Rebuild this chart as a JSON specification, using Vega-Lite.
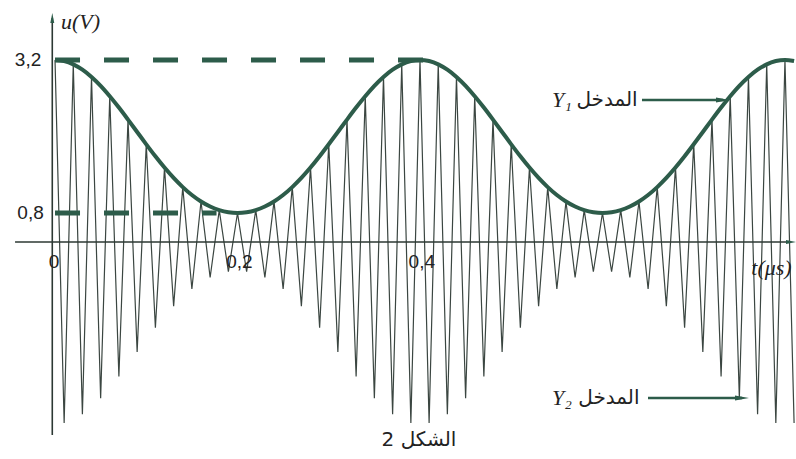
{
  "$schema": "https://vega.github.io/schema/vega-lite/v6.json",
  "width": 796,
  "height": 459,
  "autosize": "none",
  "padding": 0,
  "background": "#ffffff",
  "config": {"view": {"stroke": null}},
  "datasets": {
    "sig": [
      {"t":0,"env":3.2,"sig":3.2},{"t":0.01,"env":3.185,"sig":-3.185},{"t":0.02,"env":3.141,"sig":3.141},{"t":0.03,"env":3.069,"sig":-3.069},
      {"t":0.04,"env":2.971,"sig":2.971},{"t":0.05,"env":2.849,"sig":-2.849},{"t":0.06,"env":2.705,"sig":2.705},{"t":0.07,"env":2.545,"sig":-2.545},
      {"t":0.08,"env":2.371,"sig":2.371},{"t":0.09,"env":2.188,"sig":-2.188},{"t":0.1,"env":2.0,"sig":2.0},{"t":0.11,"env":1.812,"sig":-1.812},
      {"t":0.12,"env":1.629,"sig":1.629},{"t":0.13,"env":1.455,"sig":-1.455},{"t":0.14,"env":1.295,"sig":1.295},{"t":0.15,"env":1.151,"sig":-1.151},
      {"t":0.16,"env":1.029,"sig":1.029},{"t":0.17,"env":0.931,"sig":-0.931},{"t":0.18,"env":0.859,"sig":0.859},{"t":0.19,"env":0.815,"sig":-0.815},
      {"t":0.2,"env":0.8,"sig":0.8},{"t":0.21,"env":0.815,"sig":-0.815},{"t":0.22,"env":0.859,"sig":0.859},{"t":0.23,"env":0.931,"sig":-0.931},
      {"t":0.24,"env":1.029,"sig":1.029},{"t":0.25,"env":1.151,"sig":-1.151},{"t":0.26,"env":1.295,"sig":1.295},{"t":0.27,"env":1.455,"sig":-1.455},
      {"t":0.28,"env":1.629,"sig":1.629},{"t":0.29,"env":1.812,"sig":-1.812},{"t":0.3,"env":2.0,"sig":2.0},{"t":0.31,"env":2.188,"sig":-2.188},
      {"t":0.32,"env":2.371,"sig":2.371},{"t":0.33,"env":2.545,"sig":-2.545},{"t":0.34,"env":2.705,"sig":2.705},{"t":0.35,"env":2.849,"sig":-2.849},
      {"t":0.36,"env":2.971,"sig":2.971},{"t":0.37,"env":3.069,"sig":-3.069},{"t":0.38,"env":3.141,"sig":3.141},{"t":0.39,"env":3.185,"sig":-3.185},
      {"t":0.4,"env":3.2,"sig":3.2},{"t":0.41,"env":3.185,"sig":-3.185},{"t":0.42,"env":3.141,"sig":3.141},{"t":0.43,"env":3.069,"sig":-3.069},
      {"t":0.44,"env":2.971,"sig":2.971},{"t":0.45,"env":2.849,"sig":-2.849},{"t":0.46,"env":2.705,"sig":2.705},{"t":0.47,"env":2.545,"sig":-2.545},
      {"t":0.48,"env":2.371,"sig":2.371},{"t":0.49,"env":2.188,"sig":-2.188},{"t":0.5,"env":2.0,"sig":2.0},{"t":0.51,"env":1.812,"sig":-1.812},
      {"t":0.52,"env":1.629,"sig":1.629},{"t":0.53,"env":1.455,"sig":-1.455},{"t":0.54,"env":1.295,"sig":1.295},{"t":0.55,"env":1.151,"sig":-1.151},
      {"t":0.56,"env":1.029,"sig":1.029},{"t":0.57,"env":0.931,"sig":-0.931},{"t":0.58,"env":0.859,"sig":0.859},{"t":0.59,"env":0.815,"sig":-0.815},
      {"t":0.6,"env":0.8,"sig":0.8},{"t":0.61,"env":0.815,"sig":-0.815},{"t":0.62,"env":0.859,"sig":0.859},{"t":0.63,"env":0.931,"sig":-0.931},
      {"t":0.64,"env":1.029,"sig":1.029},{"t":0.65,"env":1.151,"sig":-1.151},{"t":0.66,"env":1.295,"sig":1.295},{"t":0.67,"env":1.455,"sig":-1.455},
      {"t":0.68,"env":1.629,"sig":1.629},{"t":0.69,"env":1.812,"sig":-1.812},{"t":0.7,"env":2.0,"sig":2.0},{"t":0.71,"env":2.188,"sig":-2.188},
      {"t":0.72,"env":2.371,"sig":2.371},{"t":0.73,"env":2.545,"sig":-2.545},{"t":0.74,"env":2.705,"sig":2.705},{"t":0.75,"env":2.849,"sig":-2.849},
      {"t":0.76,"env":2.971,"sig":2.971},{"t":0.77,"env":3.069,"sig":-3.069},{"t":0.78,"env":3.141,"sig":3.141},{"t":0.79,"env":3.185,"sig":-3.185},
      {"t":0.8,"env":3.2,"sig":3.2},{"t":0.81,"env":3.185,"sig":-3.185}
    ],
    "dashes": [
      {"t1":0,"t2":0.412,"u":3.2},
      {"t1":0,"t2":0.177,"u":0.8}
    ],
    "axes": [
      {"t1":-0.0438,"t2":0.8055,"u1":0,"u2":0},
      {"t1":-0.003,"t2":-0.003,"u1":-3.343,"u2":3.741}
    ],
    "arrows": [
      {"t1":0.6433,"t2":0.7321,"u1":2.652,"u2":2.652},
      {"t1":0.6499,"t2":0.7529,"u1":-2.847,"u2":-2.847}
    ],
    "heads": [
      {"t":0.7321,"u":2.652,"shape":"M-1,-0.36L1,0L-1,0.36Z","sz":196},
      {"t":0.7529,"u":-2.847,"shape":"M-1,-0.36L1,0L-1,0.36Z","sz":196},
      {"t":0.8066,"u":0,"shape":"M-1,-0.4L1,0L-1,0.4Z","sz":100},
      {"t":-0.003,"u":3.741,"shape":"M-0.4,1L0,-1L0.4,1Z","sz":100}
    ],
    "numlabels": [
      {"t":-0.0296,"u":3.2,"label":"3,2"},
      {"t":-0.0268,"u":0.8,"label":"0,8"},
      {"t":-0.001,"u":-0.604,"label":"0"},
      {"t":0.202,"u":-0.604,"label":"0,2"},
      {"t":0.402,"u":-0.604,"label":"0,4"}
    ],
    "italiclabels": [
      {"t":0.0279,"u":3.69,"label":"u(V)"},
      {"t":0.7852,"u":-0.7365,"label":"t(μs)"},
      {"t":0.5556,"u":2.652,"label":"Y₁"},
      {"t":0.5556,"u":-2.847,"label":"Y₂"}
    ],
    "arabiclabels": [
      {"t":0.605,"u":2.652,"label":"المدخل"},
      {"t":0.607,"u":-2.847,"label":"المدخل"},
      {"t":0.3989,"u":-3.408,"label":"الشكل 2"}
    ]
  },
  "layer": [
    {
      "data": {"name": "sig"},
      "mark": {"type": "line", "color": "#3b4641", "strokeWidth": 1.2, "clip": true},
      "encoding": {
        "x": {"field": "t", "type": "quantitative", "scale": {"domain": [-0.0603, 0.8121], "nice": false, "zero": false}, "axis": null},
        "y": {"field": "sig", "type": "quantitative", "scale": {"type": "pow", "exponent": 1.325, "domain": [-3.652, 3.966], "nice": false, "zero": false}, "axis": null}
      }
    },
    {
      "data": {"name": "sig"},
      "mark": {"type": "line", "color": "#2d5c4a", "strokeWidth": 4, "interpolate": "monotone", "clip": true},
      "encoding": {
        "x": {"field": "t", "type": "quantitative"},
        "y": {"field": "env", "type": "quantitative"}
      }
    },
    {
      "data": {"name": "dashes"},
      "mark": {"type": "rule", "color": "#2d5c4a", "strokeWidth": 5, "strokeDash": [25, 24]},
      "encoding": {
        "x": {"field": "t1", "type": "quantitative"},
        "x2": {"field": "t2"},
        "y": {"field": "u", "type": "quantitative"}
      }
    },
    {
      "data": {"name": "axes"},
      "mark": {"type": "rule", "color": "#2c3833", "strokeWidth": 1.6},
      "encoding": {
        "x": {"field": "t1", "type": "quantitative"},
        "x2": {"field": "t2"},
        "y": {"field": "u1", "type": "quantitative"},
        "y2": {"field": "u2"}
      }
    },
    {
      "data": {"name": "arrows"},
      "mark": {"type": "rule", "color": "#2d5c4a", "strokeWidth": 2.5},
      "encoding": {
        "x": {"field": "t1", "type": "quantitative"},
        "x2": {"field": "t2"},
        "y": {"field": "u1", "type": "quantitative"},
        "y2": {"field": "u2"}
      }
    },
    {
      "data": {"name": "heads"},
      "mark": {"type": "point", "filled": true, "color": "#2d5c4a", "opacity": 1},
      "encoding": {
        "x": {"field": "t", "type": "quantitative"},
        "y": {"field": "u", "type": "quantitative"},
        "shape": {"field": "shape", "type": "nominal", "scale": null},
        "size": {"field": "sz", "type": "quantitative", "scale": null}
      }
    },
    {
      "data": {"name": "numlabels"},
      "mark": {"type": "text", "font": "Liberation Sans", "fontSize": 19, "color": "#222222", "align": "center", "baseline": "middle"},
      "encoding": {
        "x": {"field": "t", "type": "quantitative"},
        "y": {"field": "u", "type": "quantitative"},
        "text": {"field": "label"}
      }
    },
    {
      "data": {"name": "italiclabels"},
      "mark": {"type": "text", "font": "Liberation Serif", "fontStyle": "italic", "fontSize": 22, "color": "#222222", "align": "center", "baseline": "middle"},
      "encoding": {
        "x": {"field": "t", "type": "quantitative"},
        "y": {"field": "u", "type": "quantitative"},
        "text": {"field": "label"}
      }
    },
    {
      "data": {"name": "arabiclabels"},
      "mark": {"type": "text", "font": "DejaVu Sans", "fontSize": 20, "color": "#222222", "align": "center", "baseline": "middle"},
      "encoding": {
        "x": {"field": "t", "type": "quantitative"},
        "y": {"field": "u", "type": "quantitative"},
        "text": {"field": "label"}
      }
    }
  ]
}
